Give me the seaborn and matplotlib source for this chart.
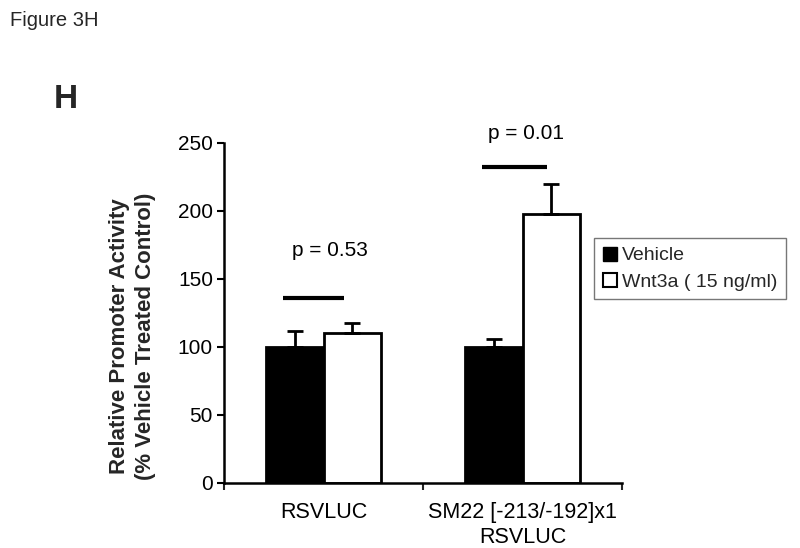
import matplotlib
matplotlib.use("Agg")
import matplotlib.pyplot as plt
import seaborn as sns
import pandas as pd
import numpy as np
from matplotlib.lines import Line2D

sns.set_theme(style="white")
plt.rcParams['font.family'] = ['Liberation Sans', 'DejaVu Sans']

constructs = ["RSVLUC", "SM22 [-213/-192]x1\nRSVLUC"]
treatments = ["Vehicle", "Wnt3a ( 15 ng/ml)"]
vehicle_means = [100, 100]
wnt3a_means = [110, 198]
vehicle_err = [12, 6]
wnt3a_err = [8, 22]
p_labels = ["p = 0.53", "p = 0.01"]
p_line_y = [136, 232]
p_text_y = [171, 257]

df = pd.DataFrame({
    "construct": constructs * 2,
    "treatment": [treatments[0]] * 2 + [treatments[1]] * 2,
    "value": vehicle_means + wnt3a_means,
    "err": vehicle_err + wnt3a_err,
})

fig = plt.figure(figsize=(8, 5.48), dpi=100)
ax = fig.add_axes([0.28, 1 - 483 / 548, 0.4975, (483 - 143) / 548])

sns.barplot(data=df, x="construct", y="value", hue="treatment",
            palette=["black", "white"], edgecolor="black", linewidth=2,
            width=0.58, dodge=True, errorbar=None, legend=False, ax=ax,
            order=constructs, hue_order=treatments)

errs = [vehicle_err, wnt3a_err]
for cont, e in zip(ax.containers, errs):
    for bar, ev in zip(cont, e):
        xc = bar.get_x() + bar.get_width() / 2
        h = bar.get_height()
        ax.errorbar([xc], [h], yerr=[[0], [ev]], fmt="none", ecolor="black",
                    elinewidth=2, capsize=6, capthick=2, zorder=1)

# significance lines and labels
line_right = [0.105, 0.125]
text_dx = [0.03, 0.02]
for i in range(2):
    ax.plot([i - 0.206, i + line_right[i]], [p_line_y[i], p_line_y[i]],
            color="black", lw=3, solid_capstyle="butt", clip_on=False)
    ax.text(i + text_dx[i], p_text_y[i], p_labels[i], ha="center", va="center",
            fontsize=15, color="black", clip_on=False)

ax.set_xlim(-0.5, 1.5)
ax.set_ylim(0, 250)
ax.set_yticks(np.arange(0, 251, 50))
ax.tick_params(axis="y", labelsize=15, length=5, width=1.5, direction="out",
               left=True, colors="black", pad=3)
ax.set_xticks([-0.5, 0.5, 1.5])
ax.set_xticklabels([])
ax.tick_params(axis="x", which="major", length=5, width=1.5, direction="out",
               bottom=True)
ax.set_xticks([0, 1], minor=True)
ax.set_xticklabels(constructs, minor=True, fontsize=15.5, linespacing=1.25)
ax.tick_params(axis="x", which="minor", length=0, pad=14, colors="black")

sns.despine(ax=ax)
for s in ["left", "bottom"]:
    ax.spines[s].set_linewidth(1.8)
    ax.spines[s].set_color("black")

ax.set_xlabel("")
ax.set_ylabel("")
fig.text(132.5 / 800, 1 - 336 / 548,
         "Relative Promoter Activity\n(% Vehicle Treated Control)",
         rotation=90, ha="center", va="center", multialignment="center",
         fontsize=16, fontweight="bold", linespacing=1.3)

handles = [Line2D([], [], marker="s", linestyle="none", markersize=10,
                  markerfacecolor="black", markeredgecolor="black"),
           Line2D([], [], marker="s", linestyle="none", markersize=10,
                  markerfacecolor="white", markeredgecolor="black", markeredgewidth=1.5)]
leg = fig.legend(handles, treatments, loc="upper left",
                 bbox_to_anchor=(594 / 800, 1 - 238 / 548), frameon=True,
                 fancybox=False, fontsize=14, handlelength=0.7,
                 handletextpad=0.3, borderpad=0.45, labelspacing=0.45,
                 borderaxespad=0)
leg.get_frame().set_edgecolor("#555555")
leg.get_frame().set_linewidth(1)

fig.text(10 / 800, 1 - 20 / 548, "Figure 3H", fontsize=14.5, ha="left", va="center")
fig.text(54 / 800, 1 - 100 / 548, "H", fontsize=24, fontweight="bold",
         ha="left", va="center")

fig.savefig("out.png", dpi=100, facecolor="white")
